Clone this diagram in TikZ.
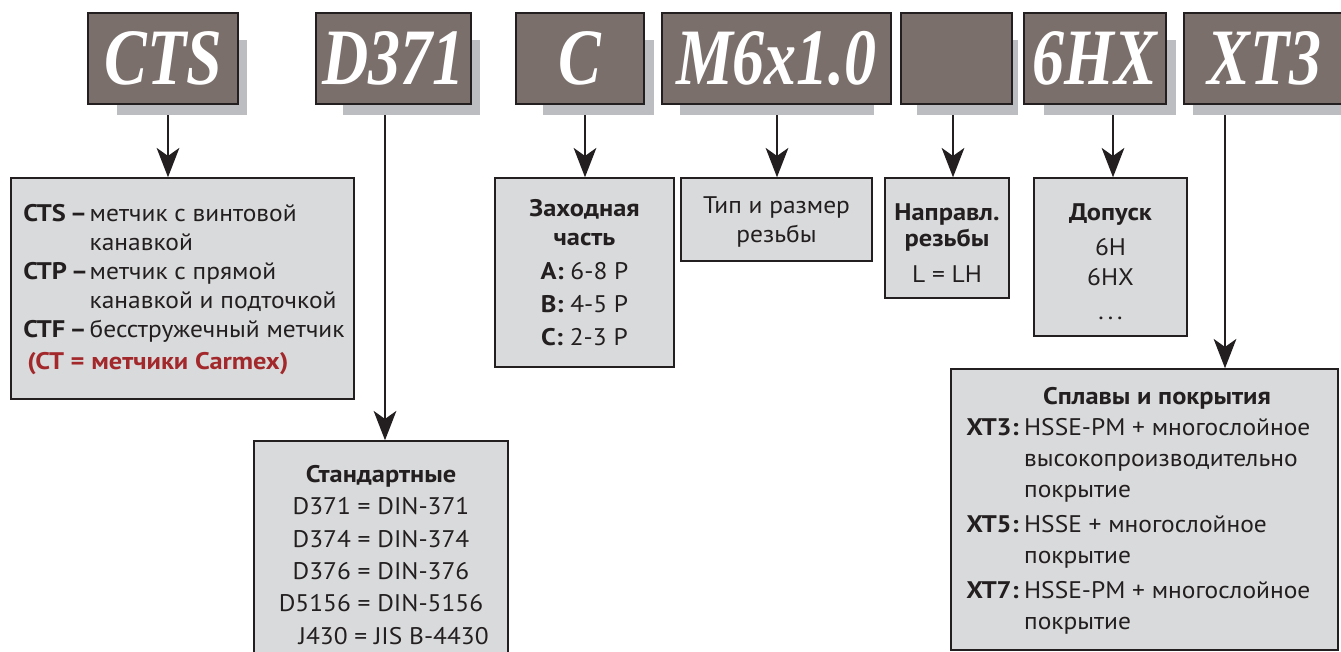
\documentclass[tikz,border=0pt]{standalone}
\usepackage{fontspec}
\setmainfont{PT Sans}[FakeStretch=1.06, BoldFeatures={FakeStretch=1.1}]
\newfontfamily\capfont[FakeStretch=0.8]{Liberation Serif}
\usetikzlibrary{positioning,arrows.meta}

\definecolor{codegray}{RGB}{122,111,107}
\definecolor{shadegray}{RGB}{188,189,192}
\definecolor{infogray}{RGB}{217,218,219}
\definecolor{inkblack}{RGB}{35,31,32}
\definecolor{carmexred}{RGB}{163,40,43}

\tikzset{
  wh/.style 2 args={minimum width=#1*0.75pt, minimum height=#2*0.75pt},
  code/.style={draw=inkblack, line width=0.8pt, fill=codegray, text=white, inner sep=0pt,
    font=\capfont\bfseries\itshape\fontsize{60}{60}\selectfont},
  info/.style={draw=inkblack, line width=1.1pt, fill=infogray, inner sep=0pt},
  txt/.style={inner sep=0pt, text=inkblack, align=center, font=\fontsize{18}{21.75}\selectfont},
  arr/.style={draw=inkblack, line width=1.5pt, -{Stealth[length=22pt,width=17pt,inset=6pt]}},
}

\begin{document}
\begin{tikzpicture}[x=0.75pt, y=-0.75pt]
\useasboundingbox (0,0) rectangle (1341,651);

% shadows behind the code boxes
\fill[shadegray] (117,40) rectangle (247,115);
\fill[shadegray] (343,40) rectangle (480,115);
\fill[shadegray] (543,40) rectangle (654,115);
\fill[shadegray] (680,40) rectangle (874,115);
\fill[shadegray] (917,40) rectangle (1018,115);
\fill[shadegray] (1044,40) rectangle (1176,115);
\fill[shadegray] (1193,40) rectangle (1350,115);

% code boxes
\node[code, wh={150}{91}] (cts) at (163,58.5) {CTS};
\node[code, wh={155}{91}] (din) at (393.5,58.5) {D371};
\node[code, wh={128}{91}] (lead) at (580,58.5) {C};
\node[code, wh={229}{91}] (size) at (776.5,58.5) {M6x1.0};
\node[code, wh={111}{91}] (hand) at (956.5,58.5) {};
\node[code, wh={142}{91}] (tol) at (1095,58.5) {6HX};
\node[code, wh={161}{91}] (coat) at (1264.5,58.5) {XT3};

% explanation boxes
\node[info, wh={343}{221}] (ctsinfo) at (182.5,288.5) {};
\node[info, wh={254}{240}] (dininfo) at (381,561) {};
\node[info, wh={179}{189}] (leadinfo) at (584.5,272.5) {};
\node[info, wh={191}{83}] (sizeinfo) at (776.5,219.5) {};
\node[info, wh={124}{120}] (handinfo) at (947,238) {};
\node[info, wh={153}{158}] (tolinfo) at (1110.5,257) {};
\node[info, wh={387}{281}] (coatinfo) at (1144.5,509.5) {};

% texts
\node[txt, anchor=north west] (ctstext) at (23,201) {\begin{tabular}{@{}l@{\hspace{1pt}}l@{}}
\textbf{CTS\hspace{3pt}–} & метчик с винтовой\\
 & канавкой\\
\textbf{CTP\hspace{3pt}–} & метчик с прямой\\
 & канавкой и подточкой\\
\textbf{CTF\hspace{3pt}–} & бесстружечный метчик\\[2pt]
\multicolumn{2}{@{\hspace{3pt}}l@{}}{\color{carmexred}\bfseries (CT = метчики Carmex)}
\end{tabular}};

\node[txt, anchor=north] (dintext) at (381,465) {\textbf{Стандартные}\\[2.5pt]
D371 = DIN-371\\[2.5pt]D374 = DIN-374\\[2.5pt]D376 = DIN-376\\[2.5pt]
D5156 = DIN-5156\\[2.5pt]\hspace*{19pt}J430 = JIS B-4430};

\node[txt, anchor=north] (leadtext) at (584.5,199) {\textbf{Заходная}\\\textbf{часть}\\[3.5pt]
\textbf{A:} 6-8 P\\[3pt]\textbf{B:} 4-5 P\\[3pt]\textbf{C:} 2-3 P};

\node[txt, anchor=north] (sizetext) at (776.5,196) {Тип и размер\\резьбы};

\node[txt, anchor=north] (handtext) at (947,203) {\textbf{Направл.}\\[-2pt]\textbf{резьбы}\\[5pt]L = LH};

\node[txt, anchor=north] (toltext) at (1110.5,203) {\textbf{Допуск}\\[4.5pt]6H\\[0.75pt]6HX\\[3.75pt].\hspace{3pt}.\hspace{3pt}.};

\node[txt, anchor=north] (coattitle) at (1157,387) {\textbf{Сплавы и покрытия}};
\node[txt, anchor=north west, font=\fontsize{18}{23}\selectfont] (coattext) at (966,414) {\begin{tabular}{@{}l@{\hspace{4pt}}l@{}}
\textbf{XT3:} & HSSE-PM + многослойное\\
 & высокопроизводительно\\
 & покрытие\\[3.5pt]
\textbf{XT5:} & HSSE + многослойное\\
 & покрытие\\[3.5pt]
\textbf{XT7:} & HSSE-PM + многослойное\\
 & покрытие
\end{tabular}};

% connectors
\coordinate (a1) at (168,115);
\coordinate (a2) at (385,115);
\coordinate (a3) at (585,115);
\coordinate (a4) at (777,115);
\coordinate (a5) at (953,115);
\coordinate (a6) at (1113,115);
\coordinate (a7) at (1225,115);

\draw[arr] (a1) -- (a1 |- ctsinfo.north);
\draw[arr] (a2) -- (a2 |- dininfo.north);
\draw[arr] (a3) -- (a3 |- leadinfo.north);
\draw[arr] (a4) -- (a4 |- sizeinfo.north);
\draw[arr] (a5) -- (a5 |- handinfo.north);
\draw[arr] (a6) -- (a6 |- tolinfo.north);
\draw[arr] (a7) -- (a7 |- coatinfo.north);

\end{tikzpicture}
\end{document}
